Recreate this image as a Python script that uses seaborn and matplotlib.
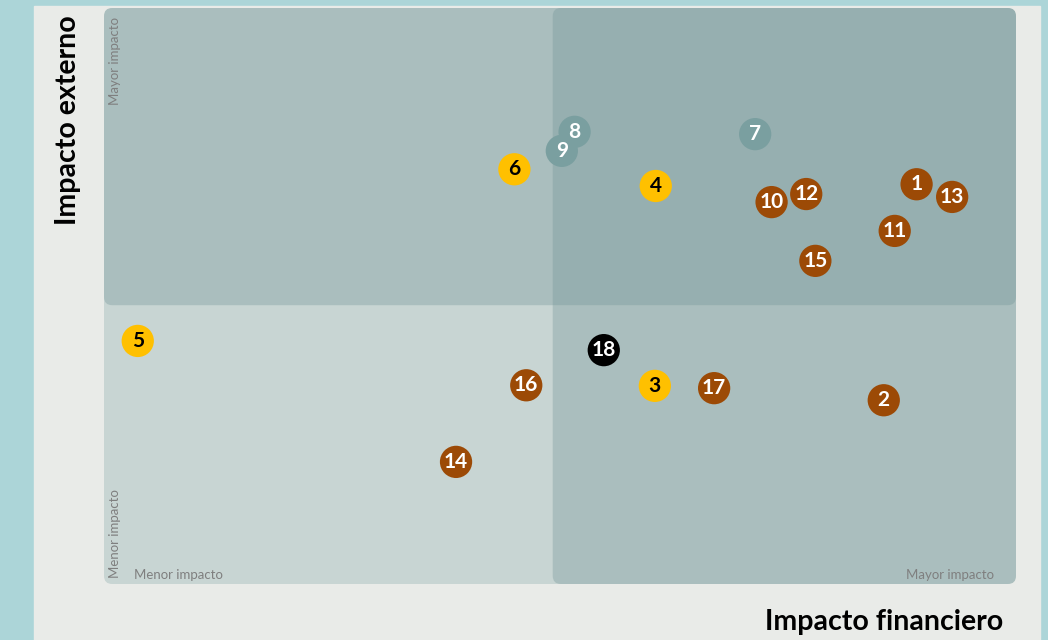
import matplotlib.pyplot as plt
import pandas as pd
import seaborn as sns
from matplotlib.patches import FancyBboxPatch, Rectangle

# ---- data (0-100 scale on both axes) ----
ids = ["1", "2", "3", "4", "5", "6", "7", "8", "9",
       "10", "11", "12", "13", "14", "15", "16", "17", "18"]
financiero = [89.1, 85.5, 60.4, 60.5, 3.7, 45.0, 71.4, 51.6, 50.2,
              73.2, 86.7, 77.0, 93.0, 38.6, 78.0, 46.3, 66.9, 54.8]
externo = [69.4, 31.9, 34.4, 69.1, 42.2, 72.0, 78.1, 78.5, 75.2,
           66.3, 61.3, 67.7, 67.2, 21.2, 56.1, 34.5, 34.0, 40.6]
grupo = ["b", "b", "y", "y", "y", "y", "g", "g", "g",
         "b", "b", "b", "b", "b", "b", "b", "b", "k"]

colores = {"b": "#9c4a06", "y": "#ffc000", "g": "#7a9fa0", "k": "#000000"}
texto_color = {"b": "white", "y": "black", "g": "white", "k": "white"}
corte_x, corte_y = 49.2, 48.4

df = pd.DataFrame({"id": ids, "x": financiero, "y": externo, "grupo": grupo})

sns.set_theme(style="white")
plt.rcParams["font.family"] = ["Lato", "DejaVu Sans"]

fig = plt.figure(figsize=(10.48, 6.4), dpi=100, facecolor="#acd5d8")
fig.patches.append(Rectangle((34 / 1048, 0), 1006 / 1048, 634 / 640,
                             transform=fig.transFigure, color="#e9ebe8", zorder=-1))

ax = fig.add_axes([104 / 1048, 56 / 640, 912 / 1048, 576 / 640], zorder=1)
ax.set_xlim(0, 100)
ax.set_ylim(0, 100)
ax.axis("off")

asp = 9.12 / 5.76
caja = dict(boxstyle="round,pad=0,rounding_size=0.9", mutation_aspect=asp, lw=0)
ax.add_patch(FancyBboxPatch((0, 0), 100, 100, fc="#c8d5d3", zorder=0, **caja))
ax.add_patch(FancyBboxPatch((0, corte_y), 100, 100 - corte_y, fc="#6f9294",
                            alpha=0.33, zorder=1, **caja))
ax.add_patch(FancyBboxPatch((corte_x, 0), 100 - corte_x, 100, fc="#6f9294",
                            alpha=0.33, zorder=1, **caja))

sns.scatterplot(data=df, x="x", y="y", hue="grupo", palette=colores, s=540,
                linewidth=0, legend=False, ax=ax, zorder=3, clip_on=False)
for _, r in df.iterrows():
    ax.text(r["x"], r["y"], r["id"], ha="center", va="center", fontsize=15,
            fontweight="bold", color=texto_color[r["grupo"]], zorder=4)

gris = "#7f7f7f"
ax.text(1.2, 1.0, "Menor impacto", rotation=90, ha="center", va="bottom",
        fontsize=9.5, color=gris)
ax.text(1.2, 98.5, "Mayor impacto", rotation=90, ha="center", va="top",
        fontsize=9.5, color=gris)
ax.text(3.3, 0.6, "Menor impacto", ha="left", va="bottom", fontsize=9.5, color=gris)
ax.text(97.6, 0.6, "Mayor impacto", ha="right", va="bottom", fontsize=9.5, color=gris)

fig.text(68 / 1048, 1 - 15 / 640, "Impacto externo", rotation=90, ha="center",
         va="top", fontsize=20.5, fontweight="bold", color="black")
fig.text(1003 / 1048, 1 - 622 / 640, "Impacto financiero", ha="right",
         va="center", fontsize=20.5, fontweight="bold", color="black")

fig.savefig("out.png", dpi=100, facecolor=fig.get_facecolor())
